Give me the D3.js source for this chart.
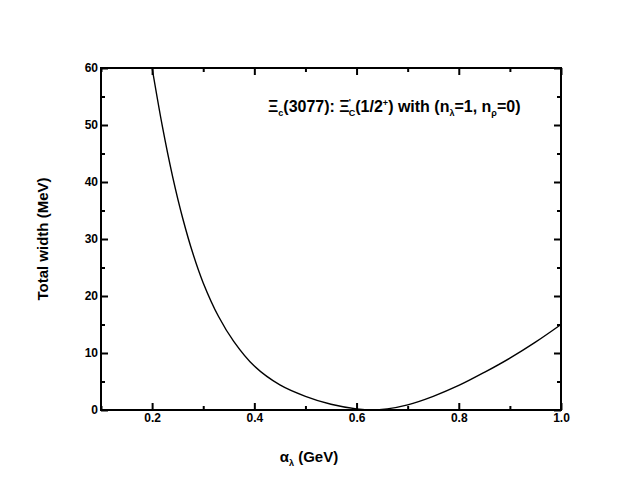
<!DOCTYPE html>
<html>
<head>
<meta charset="utf-8">
<script src="https://cdn.jsdelivr.net/npm/d3@7"></script>
<style>
  body { margin: 0; background: #fff; }
  svg { font-family: "Liberation Sans", Arial, sans-serif; font-weight: bold; }
</style>
</head>
<body>
<svg id="chart" width="627" height="504"></svg>
<script>
"use strict";

// alpha_lambda (GeV) vs total width (MeV)
const alphaLambda = [0.20, 0.22, 0.24, 0.26, 0.28, 0.30, 0.33, 0.36, 0.40, 0.45, 0.50,
                     0.55, 0.60, 0.63, 0.66, 0.70, 0.75, 0.80, 0.85, 0.90, 0.95, 1.00];
const totalWidth  = [60.0, 49.8, 41.0, 33.6, 27.4, 22.3, 16.4, 12.0, 7.7, 4.4, 2.4,
                     1.0, 0.2, 0.0, 0.2, 0.9, 2.4, 4.3, 6.6, 9.1, 11.9, 15.0];

const xMajor = [0.2, 0.4, 0.6, 0.8, 1.0];
const xMinor = [0.1, 0.3, 0.5, 0.7, 0.9];
const yMajor = [0, 10, 20, 30, 40, 50, 60];
const yMinor = [5, 15, 25, 35, 45, 55];

let width = 627;
let height = 504;
let margin = {top: 68, right: 66, bottom: 94, left: 101};

let svg = d3.select('#chart');

let x = d3.scaleLinear().domain([0.1, 1.0]).range([margin.left, width - margin.right]);
let y = d3.scaleLinear().domain([0, 60]).range([height - margin.bottom, margin.top]);

// ticks point inward on all four sides
function tickAxes(g, axisFn, scale, major, minor, fmt, pos) {
    g.append("g").attr("transform", pos)
        .call(axisFn(scale).tickValues(major).tickSizeInner(-7).tickSizeOuter(0).tickFormat(fmt));
    g.append("g").attr("transform", pos)
        .call(axisFn(scale).tickValues(minor).tickSizeInner(-4).tickSizeOuter(0).tickFormat(""));
}

let axes = svg.append("g").attr("class", "axes");
let bottomY = height - margin.bottom;
let rightX = width - margin.right;

tickAxes(axes, d3.axisBottom, x, xMajor, xMinor, d3.format(".1f"), `translate(0,${bottomY})`);
tickAxes(axes, d3.axisTop, x, xMajor, xMinor, "", `translate(0,${margin.top})`);
tickAxes(axes, d3.axisLeft, y, yMajor, yMinor, d3.format("d"), `translate(${margin.left},0)`);
tickAxes(axes, d3.axisRight, y, yMajor, yMinor, "", `translate(${rightX},0)`);

axes.selectAll(".domain").remove();
axes.selectAll(".tick line").attr("stroke", "#000").attr("stroke-width", 2);
axes.selectAll(".tick text")
    .attr("fill", "#000")
    .style("font-size", "12px")
    .style("font-family", "'Liberation Sans', Arial, sans-serif")
    .style("font-weight", "bold");

// frame
svg.append("rect")
    .attr("x", margin.left)
    .attr("y", margin.top)
    .attr("width", rightX - margin.left)
    .attr("height", bottomY - margin.top)
    .attr("fill", "none")
    .attr("stroke", "#000")
    .attr("stroke-width", 2);

// curve
let pts = alphaLambda.map((a, i) => [a, totalWidth[i]]);
let line = d3.line()
    .x(d => x(d[0]))
    .y(d => y(d[1]))
    .curve(d3.curveCatmullRom.alpha(0.5));

svg.append("path")
    .datum(pts)
    .attr("d", line)
    .attr("fill", "none")
    .attr("stroke", "#000")
    .attr("stroke-width", 1.4);

// axis titles
svg.append("text")
    .attr("transform", `translate(48,${(margin.top + bottomY) / 2}) rotate(-90)`)
    .attr("text-anchor", "middle")
    .style("font-size", "15px")
    .text("Total width (MeV)");

let xt = svg.append("text")
    .attr("x", 309)
    .attr("y", 462)
    .attr("text-anchor", "middle")
    .style("font-size", "15px");
xt.append("tspan").text("α");
xt.append("tspan").attr("dy", 4).style("font-size", "9px").text("λ");
xt.append("tspan").attr("dy", -4).text(" (GeV)");

// annotation
let t = svg.append("text")
    .attr("x", 268)
    .attr("y", 112)
    .style("font-size", "16px");
t.append("tspan").text("Ξ");
t.append("tspan").attr("dy", 4).style("font-size", "9px").text("c");
t.append("tspan").attr("dy", -4).text("(3077): Ξ");
t.append("tspan").attr("dy", -7).attr("dx", -1).style("font-size", "9px").text("'");
t.append("tspan").attr("dy", 11).attr("dx", -2).style("font-size", "9px").text("C");
t.append("tspan").attr("dy", -4).text("(1/2");
t.append("tspan").attr("dy", -6).style("font-size", "9px").text("+");
t.append("tspan").attr("dy", 6).text(") with (n");
t.append("tspan").attr("dy", 4).style("font-size", "9px").text("λ");
t.append("tspan").attr("dy", -4).text("=1, n");
t.append("tspan").attr("dy", 4).style("font-size", "9px").text("ρ");
t.append("tspan").attr("dy", -4).text("=0)");
</script>
</body>
</html>
